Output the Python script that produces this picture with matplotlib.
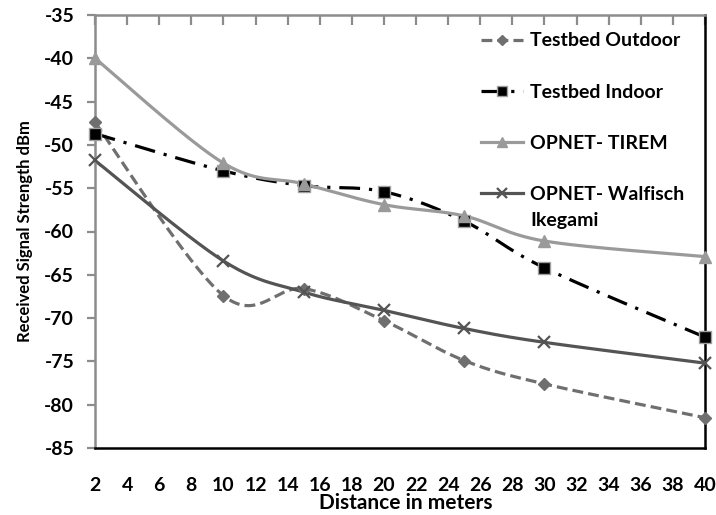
import numpy as np
import matplotlib
matplotlib.use("Agg")
import matplotlib.pyplot as plt
from matplotlib.lines import Line2D

plt.rcParams['font.family'] = ['Lato', 'DejaVu Sans']
plt.rcParams['font.weight'] = 'bold'

distance = [2, 10, 15, 20, 25, 30, 40]
testbed_outdoor = [-47.4, -67.4, -66.6, -70.3, -74.9, -77.6, -81.5]
testbed_indoor = [-48.7, -53.0, -54.7, -55.4, -58.8, -64.2, -72.2]
opnet_tirem = [-40.0, -52.1, -54.5, -56.9, -58.2, -61.1, -62.9]
opnet_walfisch = [-51.8, -63.4, -67.0, -69.1, -71.2, -72.8, -75.2]

labels = ["Testbed Outdoor", "Testbed Indoor", "OPNET- TIREM", "OPNET- Walfisch"]
xticks = list(range(2, 41, 2))
yticks = list(range(-85, -34, 5))

fig = plt.figure(figsize=(7.16, 5.15), dpi=100)
ax = fig.add_axes([95/716, 1-448/515, 610/716, 433/515])
ax.set_xlim(2, 40)
ax.set_ylim(-85, -35)


def smooth(xs, ys, sx, sy, n=40):
    # Excel-style smoothing: Bezier with Catmull-Rom control points, in pixel space
    P = np.column_stack([np.array(xs) * sx, np.array(ys) * sy])
    out = [P[0]]
    m = len(P)
    for i in range(m - 1):
        p0 = P[i - 1] if i > 0 else P[i]
        p1 = P[i]
        p2 = P[i + 1]
        p3 = P[i + 2] if i + 2 < m else P[i + 1]
        c1 = p1 + (p2 - p0) / 6.0
        c2 = p2 - (p3 - p1) / 6.0
        t = np.linspace(0, 1, n)[1:, None]
        seg = ((1 - t) ** 3) * p1 + 3 * ((1 - t) ** 2) * t * c1 + 3 * (1 - t) * t ** 2 * c2 + t ** 3 * p2
        out.extend(seg)
    out = np.array(out)
    return out[:, 0] / sx, out[:, 1] / sy


sx = 610 / 38.0
sy = 433 / 50.0

styles = [
    dict(color='#6f6f6f', ls=(0, (3.4, 1.6)), lw=2.3, marker='D', ms=6.5, mfc='#6f6f6f', mec='#6f6f6f'),
    dict(color='#000000', ls=(0, (6.5, 2.8, 1.0, 2.8)), lw=2.3, marker='s', ms=8, mfc='#000000', mec='#a0a0a0'),
    dict(color='#9a9a9a', ls='-', lw=2.3, marker='^', ms=9, mfc='#9a9a9a', mec='#9a9a9a'),
    dict(color='#545454', ls='-', lw=2.3, marker='x', ms=9, mfc='#545454', mec='#545454'),
]
series = [testbed_outdoor, testbed_indoor, opnet_tirem, opnet_walfisch]

handles = []
for ys, st, lab in zip(series, styles, labels):
    cx, cy = smooth(distance, ys, sx, sy)
    ax.plot(cx, cy, color=st['color'], ls=st['ls'], lw=st['lw'], clip_on=False, zorder=2)
    ax.plot(distance, ys, ls='none', marker=st['marker'], ms=st['ms'], mfc=st['mfc'],
            mec=st['mec'], mew=1.6 if st['marker'] == 'x' else 1.0, clip_on=False, zorder=3)
    handles.append(Line2D([], [], color=st['color'], ls=st['ls'], lw=st['lw'], marker=st['marker'],
                          ms=st['ms'] * 0.85, mfc=st['mfc'], mec=st['mec'],
                          mew=1.6 if st['marker'] == 'x' else 1.0))

# spines
for s in ['left', 'top']:
    ax.spines[s].set_color('#8c8c8c')
    ax.spines[s].set_linewidth(1.8)
for s in ['bottom', 'right']:
    ax.spines[s].set_color('#000000')
    ax.spines[s].set_linewidth(1.8)

ax.set_xticks(xticks)
ax.set_xticklabels([str(v) for v in xticks])
ax.set_yticks(yticks)
ax.set_yticklabels([str(v) for v in yticks])
ax.tick_params(axis='x', bottom=False, top=True, direction='in', length=7, width=1.6,
               color='#8c8c8c', labelbottom=True, labeltop=False, labelsize=14, pad=21)
ax.tick_params(axis='y', left=True, direction='out', length=6, width=1.6, color='#8c8c8c',
               labelsize=14, pad=9)
for lbl in ax.get_xticklabels() + ax.get_yticklabels():
    lbl.set_fontweight('bold')

ax.set_xlabel("Distance in meters", fontsize=15, fontweight='bold', labelpad=0)
ax.xaxis.set_label_coords(0.51, -0.105)
ax.set_ylabel("Received Signal Strength dBm", fontsize=12, fontweight='bold', labelpad=8)

leg = ax.legend(handles, labels, loc='upper right', bbox_to_anchor=(0.995, 1.0), frameon=False,
                fontsize=14, handlelength=2.2, handletextpad=0.35, labelspacing=1.76,
                borderaxespad=0.5)
for t in leg.get_texts():
    t.set_fontweight('bold')

fig.canvas.draw()
wt = leg.get_texts()[-1]
bb = wt.get_window_extent()
x0, y0 = fig.transFigure.inverted().transform((bb.x0, bb.y0))
fig.text(x0, y0 - 0.018, "Ikegami", fontsize=14, fontweight='bold', ha='left', va='top')

fig.savefig("out.png", dpi=100)
